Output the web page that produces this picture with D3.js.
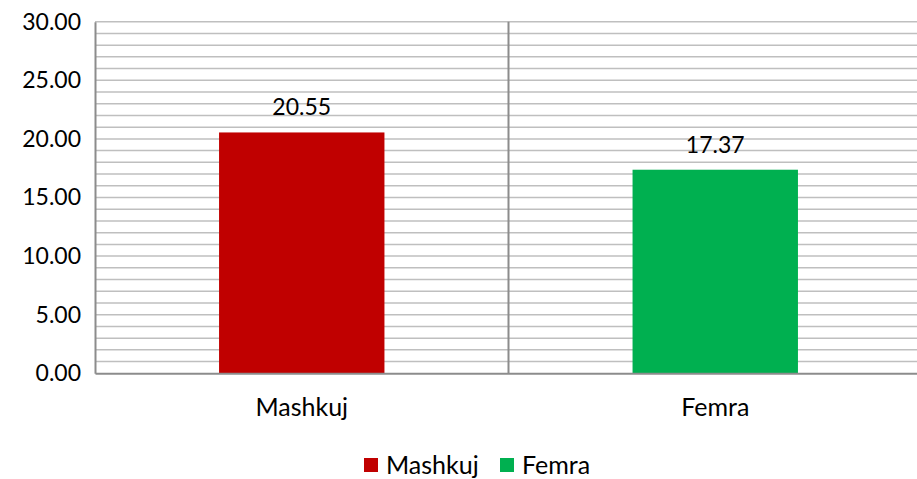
<html>
<head>
  <title></title>
</head>
<body style="margin:0">
<div id='graph-container'></div>
<script src="https://cdnjs.cloudflare.com/ajax/libs/d3/7.8.5/d3.min.js"></script>
<script type="text/javascript">

var categories = ['Mashkuj', 'Femra']
var values = [20.55, 17.37]
var colors = ['#C00000', '#00B050']
var yTicks = [0, 5, 10, 15, 20, 25, 30]

var width = 917
var height = 479
var plot = {left: 95, top: 21.7, right: 922, bottom: 373.3}

var svg = d3.select('#graph-container').append('svg')
  .attr('width', width)
  .attr('height', height)
  .style('font-family', 'Lato, "Noto Sans", sans-serif')

var xScale = d3.scaleBand().domain(categories).range([plot.left, plot.right]).paddingInner(0).paddingOuter(0)
var yScale = d3.scaleLinear().domain([0, 30]).range([plot.bottom, plot.top])

// minor gridlines every 1 unit
svg.append('g')
  .selectAll('line')
  .data(d3.range(1, 31))
  .enter()
  .append('line')
  .attr('x1', plot.left)
  .attr('x2', plot.right)
  .attr('y1', (d)=>yScale(d))
  .attr('y2', (d)=>yScale(d))
  .attr('stroke', '#bfbfbf')
  .attr('stroke-width', 1.5)

// category separators
svg.append('g')
  .selectAll('line')
  .data(categories.slice(1))
  .enter()
  .append('line')
  .attr('x1', (d)=>xScale(d))
  .attr('x2', (d)=>xScale(d))
  .attr('y1', plot.top)
  .attr('y2', plot.bottom)
  .attr('stroke', '#8c8c8c')
  .attr('stroke-width', 2)

// bars
var barW = xScale.bandwidth()*0.4
svg.append('g')
  .selectAll('rect')
  .data(values)
  .enter()
  .append('rect')
  .attr('x', (d,i)=>xScale(categories[i]) + xScale.bandwidth()/2 - barW/2)
  .attr('y', (d)=>yScale(d))
  .attr('width', barW)
  .attr('height', (d)=>yScale(0)-yScale(d))
  .attr('fill', (d,i)=>colors[i])

// value labels
svg.append('g')
  .selectAll('text')
  .data(values)
  .enter()
  .append('text')
  .attr('x', (d,i)=>xScale(categories[i]) + xScale.bandwidth()/2)
  .attr('y', (d)=>yScale(d) - 17)
  .attr('text-anchor', 'middle')
  .style('font-size', '23px')
  .attr('fill', '#000')
  .text((d)=>d.toFixed(2))

// y axis
var yAxis = svg.append('g')
  .attr('transform', `translate(${plot.left},0)`)
  .call(d3.axisLeft(yScale).tickValues(yTicks).tickSize(0).tickPadding(14).tickFormat(d3.format('.2f')))
yAxis.select('.domain').attr('stroke', '#8c8c8c').attr('stroke-width', 2)
yAxis.selectAll('text').style('font-size', '23px').attr('fill', '#000').style('font-family', 'Lato, "Noto Sans", sans-serif')

// x axis
var xAxis = svg.append('g')
  .attr('transform', `translate(0,${plot.bottom})`)
  .call(d3.axisBottom(xScale).tickSize(0).tickPadding(25))
xAxis.select('.domain').attr('stroke', '#8c8c8c').attr('stroke-width', 2)
xAxis.selectAll('text').style('font-size', '25px').attr('fill', '#000').style('font-family', 'Lato, "Noto Sans", sans-serif')

// legend
var legendX = [364, 500]
var legend = svg.append('g')
  .selectAll('g')
  .data(categories)
  .enter()
  .append('g')
  .attr('transform', (d,i)=>`translate(${legendX[i]},458)`)
legend.append('rect')
  .attr('width', 14)
  .attr('height', 14)
  .attr('fill', (d,i)=>colors[i])
legend.append('text')
  .attr('x', 22)
  .attr('y', 16)
  .style('font-size', '25px')
  .text((d)=>d)

</script>
</body>
</html>
